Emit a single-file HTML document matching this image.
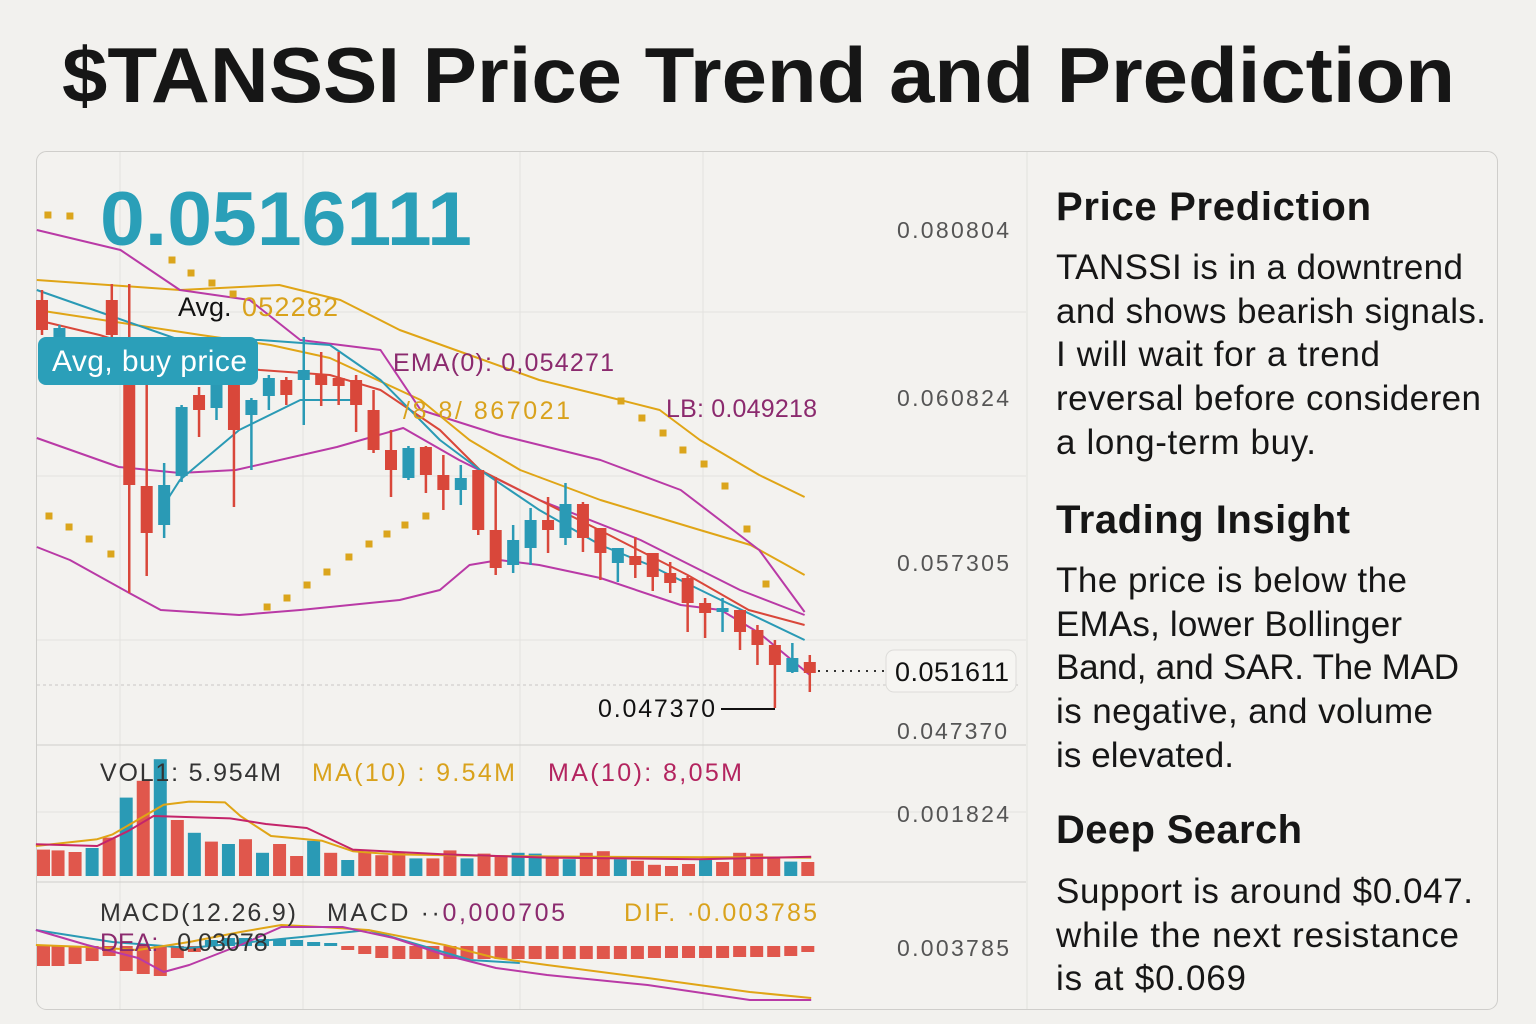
<!DOCTYPE html>
<html><head><meta charset="utf-8">
<style>
html,body{margin:0;padding:0;background:#f2f1ee;}
body{width:1536px;height:1024px;overflow:hidden;position:relative;font-family:"Liberation Sans",sans-serif;}
svg text{font-family:"Liberation Sans",sans-serif;}
</style></head>
<body>
<svg id="chart" width="1536" height="1024" viewBox="0 0 1536 1024" xmlns="http://www.w3.org/2000/svg" style="position:absolute;left:0;top:0">
  <text x="62" y="102" font-size="78" font-weight="bold" fill="#161616" textLength="1393" lengthAdjust="spacingAndGlyphs">$TANSSI Price Trend and Prediction</text>
  <rect x="36.5" y="151.5" width="1461" height="858" rx="10" fill="#f3f2ef" stroke="#cfcecb"/>
  <line x1="1027" y1="152" x2="1027" y2="1009" stroke="#e2e1de"/>
  <g id="grid" stroke="#e3e2df" stroke-width="1">
    <line x1="37" y1="312" x2="1026" y2="312"/><line x1="37" y1="476" x2="1026" y2="476"/>
    <line x1="37" y1="640" x2="1026" y2="640"/><line x1="37" y1="812" x2="1026" y2="812"/>
    <line x1="120" y1="152" x2="120" y2="1009"/><line x1="303" y1="152" x2="303" y2="1009"/>
    <line x1="520" y1="152" x2="520" y2="1009"/><line x1="703" y1="152" x2="703" y2="1009"/>
  </g>
  <line x1="37" y1="745" x2="1026" y2="745" stroke="#cfcecb"/>
  <line x1="37" y1="882" x2="1026" y2="882" stroke="#cfcecb"/>
  <line x1="37" y1="685" x2="1020" y2="685" stroke="#c8c7c4" stroke-dasharray="3,3"/>
  <g id="lines"></g><g id="candles"></g><g id="sar"></g>
  <g id="vol"></g><g id="macd"></g>

  <text x="100" y="245" font-size="76" font-weight="bold" fill="#2a9fb8" textLength="372" lengthAdjust="spacingAndGlyphs">0.0516111</text>
  <text x="178" y="316" font-size="27" fill="#111">Avg.</text>
  <text x="242" y="316" font-size="27" fill="#d9a21c" textLength="96">052282</text>
  <rect x="38" y="337" width="220" height="48" rx="8" fill="#2b9fb9"/>
  <text x="52" y="371" font-size="30" fill="#fff" textLength="195">Avg, buy price</text>
  <text x="393" y="371" font-size="25" fill="#8b2a6e" textLength="221">EMA(0): 0,054271</text>
  <text x="403" y="419" font-size="25" fill="#d9a21c" textLength="167">/8 8/ 867021</text>
  <text x="666" y="417" font-size="25" fill="#8b2a6e" textLength="151">LB: 0.049218</text>
  <text x="598" y="717" font-size="25" fill="#111" textLength="117">0.047370</text>
  <line x1="721" y1="709" x2="775" y2="709" stroke="#111" stroke-width="2"/>
  <line x1="818" y1="671" x2="884" y2="671" stroke="#333" stroke-width="2" stroke-dasharray="2,6"/>
  <rect x="886" y="650" width="130" height="42" rx="8" fill="#f6f5f2" stroke="#dddcd9"/>
  <text x="895" y="681" font-size="27" fill="#111" textLength="114">0.051611</text>

  <g font-size="23" fill="#555">
    <text x="897" y="238" textLength="112">0.080804</text><text x="897" y="406" textLength="112">0.060824</text>
    <text x="897" y="571" textLength="112">0.057305</text><text x="897" y="739" textLength="110">0.047370</text>
    <text x="897" y="822" textLength="112">0.001824</text><text x="897" y="956" textLength="112">0.003785</text>
  </g>
  <g font-size="25">
    <text x="100" y="781" fill="#333" textLength="181">VOL1: 5.954M</text>
    <text x="312" y="781" fill="#d9a21c" textLength="203">MA(10) : 9.54M</text>
    <text x="548" y="781" fill="#b3245f" textLength="194">MA(10): 8,05M</text>
  </g>
  <g font-size="25">
    <text x="100" y="921" fill="#333" textLength="196">MACD(12.26.9)</text>
    <text x="327" y="921" fill="#333" textLength="238">MACD ··<tspan fill="#8b2a6e">0,000705</tspan></text>
    <text x="624" y="921" fill="#d9a21c" textLength="193">DIF. ·0.003785</text>
    <text x="100" y="951" fill="#8b2a6e">DEA: <tspan fill="#333" dx="12">0.03078</tspan></text>
  </g>

  <g fill="#161616">
    <text x="1056" y="220" font-size="40" font-weight="bold" textLength="315">Price Prediction</text>
    <g font-size="35">
      <text x="1056" y="279" textLength="407">TANSSI is in a downtrend</text>
      <text x="1056" y="323" textLength="430">and shows bearish signals.</text>
      <text x="1056" y="366" textLength="324">I will wait for a trend</text>
      <text x="1056" y="410" textLength="425">reversal before consideren</text>
      <text x="1056" y="454" textLength="260">a long-term buy.</text>
    </g>
    <text x="1056" y="533" font-size="40" font-weight="bold" textLength="294">Trading Insight</text>
    <g font-size="35">
      <text x="1056" y="592" textLength="351">The price is below the</text>
      <text x="1056" y="636" textLength="346">EMAs, lower Bollinger</text>
      <text x="1056" y="679" textLength="403">Band, and SAR. The MAD</text>
      <text x="1056" y="723" textLength="377">is negative, and volume</text>
      <text x="1056" y="767" textLength="178">is elevated.</text>
    </g>
    <text x="1056" y="843" font-size="40" font-weight="bold" textLength="246">Deep Search</text>
    <g font-size="35">
      <text x="1056" y="903" textLength="417">Support is around $0.047.</text>
      <text x="1056" y="947" textLength="403">while the next resistance</text>
      <text x="1056" y="990" textLength="190">is at $0.069</text>
    </g>
  </g>
</svg>
<script>
const days=[0,1,4,5,6,7,8,9,10,11,12,13,14,15,16,17,18,19,20,21,22,23,24,25,26,27,28,29,30,31,32,33,34,35,36,37,38,39,40,41,42,43,44];
const opens=[.0790,.0750,.0790,.0745,.0604,.0565,.0614,.0695,.0682,.0705,.0675,.0694,.0710,.0710,.0715,.0712,.0710,.0680,.0640,.0612,.0643,.0615,.0600,.0620,.0560,.0525,.0542,.0570,.0552,.0586,.0562,.0527,.0534,.0537,.0517,.0512,.0487,.0478,.0480,.0460,.0445,.0418,.0428];
const closes=[.0760,.0762,.0755,.0605,.0557,.0605,.0683,.0680,.0705,.0660,.0690,.0712,.0695,.0720,.0705,.0704,.0685,.0640,.0620,.0642,.0615,.0600,.0612,.0560,.0522,.0550,.0570,.0560,.0586,.0552,.0537,.0542,.0525,.0513,.0507,.0487,.0477,.0482,.0458,.0445,.0425,.0432,.0417];
const highs=[.0800,.0765,.0806,.0806,.0710,.0627,.0685,.0703,.0710,.0745,.0692,.0715,.0713,.0753,.0738,.0738,.0715,.0700,.0660,.0644,.0644,.0635,.0625,.0620,.0613,.0565,.0582,.0593,.0607,.0588,.0562,.0542,.0553,.0537,.0528,.0514,.0492,.0492,.0480,.0465,.0450,.0447,.0435];
const lows=[.0755,.0750,.0750,.0497,.0514,.0552,.0608,.0653,.0670,.0583,.0620,.0680,.0685,.0665,.0684,.0685,.0658,.0637,.0593,.0610,.0597,.0580,.0585,.0555,.0515,.0517,.0525,.0537,.0545,.0538,.0510,.0508,.0512,.0499,.0497,.0458,.0452,.0458,.0440,.0425,.0382,.0417,.0398];

const bbUpperDays=[-0.3,7.9,13.6,17.1,20.5,24.5,28.5,32,35.4,37.7,41.1,43.7];
const bbUpperVals=[.0810,.0800,.0805,.0790,.0760,.0735,.0710,.0695,.0680,.0650,.0615,.0593];
const maGoldDays=[-0.3,9.1,13.1,16.5,21.7,24.5,27.4,32,37.7,40.6,43.7];
const maGoldVals=[.0780,.0755,.0745,.0732,.0690,.0650,.0620,.0590,.0560,.0545,.0515];
const magUpperDays=[-0.3,4.5,7.9,11.9,14.8,19.4,21.7,26.2,32,36.6,41.1,43.7];
const magUpperVals=[.0860,.0840,.0800,.0790,.0750,.0740,.0680,.0655,.0630,.0600,.0540,.0478];
const emaCyanDays=[-0.3,3.3,7.9,12.5,16.5,19.4,22.8,25.1,28.5,32,34.8,38.9,43.7];
const emaCyanVals=[.0800,.0778,.0750,.0750,.0745,.0710,.0650,.0620,.0580,.0545,.0525,.0490,.0450];
const emaRedDays=[-0.3,3.3,7.9,12.5,16.5,19.4,22.8,25.1,28.5,32.5,37,40.5,43.7];
const emaRedVals=[.0770,.0755,.0730,.0720,.0715,.0700,.0660,.0620,.0590,.0555,.0515,.0480,.0465];
const emaFastDays=[6.8,7.9,11.3,14.8,17.1,18.3];
const emaFastVals=[.0580,.0610,.0660,.0690,.0690,.0690];
const midDays=[-0.3,4.4,7.9,11.1,16.9,20.7,23.9,28.5,34.3,40,43.7];
const midVals=[.0652,.0623,.0617,.0620,.0643,.0662,.0630,.0590,.0550,.0500,.0475];
const bbLowerDays=[-0.3,1.6,5,6.8,11.3,14.8,20.5,22.8,24.5,26.2,28.5,32,36.6,38.9,41.1,44];
const bbLowerVals=[.0543,.0530,.0497,.0480,.0475,.0480,.0490,.0500,.0525,.0530,.0525,.0512,.0485,.0480,.0457,.0415];

const sarDays=[0.34,1.6,7.45,8.54,9.74,10.95,0.4,1.55,2.7,3.95,12.9,14.04,15.19,16.33,17.59,18.74,19.77,20.8,22.0,33.18,34.38,35.59,36.73,37.94,39.14,40.4,41.49];
const sarVals=[.0875,.0874,.0830,.0817,.0807,.0796,.0574,.0563,.0551,.0536,.0483,.0492,.0505,.0518,.0533,.0546,.0556,.0565,.0574,.0689,.0672,.0657,.0640,.0626,.0604,.0561,.0506];

const volumes=[3.3,3.2,3.0,3.5,4.8,9.8,11.9,14.6,7.0,5.4,4.3,4.0,4.6,2.9,4.0,2.5,4.4,2.9,2.0,3.0,2.6,3.0,2.2,2.2,3.2,2.2,2.8,2.5,2.9,2.8,2.5,2.1,2.9,3.1,2.1,1.9,1.4,1.25,1.5,2.1,1.75,2.9,2.8,2.3,1.8,1.75];
const volUp=[3,5,7,9,11,13,16,18,22,25,28,29,31,34,39,44];
const volMaGoldIdx=[-0.3,3.3,4.2,7.2,8.7,10.8,11.7,13.5,16.5,18.3,20.7,26.7,32.6,45.2];
const volMaGoldVals=[3.75,4.6,5.2,8.9,9.3,9.2,7.5,5.0,4.4,3.1,2.7,2.5,2.4,2.3];
const volMaMagIdx=[-0.3,3.3,5.1,6.6,11.1,13.2,15.6,18.3,23.7,29.7,38.6,45.2];
const volMaMagVals=[3.96,3.75,5.6,7.5,7.2,6.5,6.0,3.3,2.7,2.3,2.1,2.4];

const macdHist=[-.0020,-.0020,-.0018,-.0015,-.0010,-.0025,-.0028,-.0030,-.0012,-.0006,.0006,.0008,.0008,.0007,.0007,.0006,.0004,.0003,-.0004,-.0008,-.0012,-.0013,-.0013,-.0013,-.0013,-.0013,-.0013,-.0013,-.0013,-.0013,-.0013,-.0013,-.0013,-.0013,-.0013,-.0013,-.0012,-.0012,-.0012,-.0012,-.0012,-.0011,-.0011,-.0011,-.0010,-.0006];
const difIdx=[-0.3,2.7,5.7,8.7,11.7,14.1,16.5,19.2,23.7,26.7,29.7,35.6,41.6,45.2];
const difVals=[.0001,-.0001,-.0004,.0004,.0014,.0021,.0019,.0016,.0001,-.0012,-.0019,-.0032,-.0046,-.0052];
const deaIdx=[-0.3,2.7,5.7,7.2,8.7,11.7,14.1,17.7,20.7,23.7,26.7,29.7,35.6,41.6,45.2];
const deaVals=[.0016,.0001,-.0012,-.0026,-.0019,.0001,.0019,.0019,.0008,-.0009,-.0022,-.0029,-.0039,-.0054,-.0054];
const macdCyanIdx=[-0.3,4.2,8.7,12.3,15.3,19.2,22.2,25.2,28.1];
const macdCyanVals=[.0016,.0004,-.0002,.0004,.0009,.0016,.0001,-.0014,-.0017];

const xDay=d=>42+d*17.45;
const yPrice=p=>1090-p*10000;
const xVol=i=>41+i*17.04;
const yVol=v=>876-v*8;
const yMacd=m=>946-m*10000;
const NS='http://www.w3.org/2000/svg';
const RED='#d9473a',CYAN='#2a9ab5',GOLD='#e0a516',MAG='#b93aa6';

function mk(tag,attrs,parent){const e=document.createElementNS(NS,tag);for(const k in attrs)e.setAttribute(k,attrs[k]);document.getElementById(parent).appendChild(e);return e;}
function poly(xs,ys,fx,fy,color,w,parent,name){
  const pts=xs.map((x,i)=>fx(x).toFixed(1)+','+fy(ys[i]).toFixed(1)).join(' ');
  const e=mk('polyline',{points:pts,fill:'none',stroke:color,'stroke-width':w,'stroke-linejoin':'round'},parent);
  
  
}
poly(bbUpperDays,bbUpperVals,xDay,yPrice,GOLD,2,'lines','bollinger-upper');
poly(maGoldDays,maGoldVals,xDay,yPrice,GOLD,2,'lines','ma-gold-line');
poly(magUpperDays,magUpperVals,xDay,yPrice,MAG,2,'lines','ema-magenta-line');
poly(midDays,midVals,xDay,yPrice,MAG,2,'lines','bollinger-mid');
poly(emaRedDays,emaRedVals,xDay,yPrice,RED,2,'lines','ema-red-line');
poly(emaCyanDays,emaCyanVals,xDay,yPrice,CYAN,2,'lines','ema-cyan-line');
poly(emaFastDays,emaFastVals,xDay,yPrice,CYAN,2,'lines','ema-fast-line');
poly(bbLowerDays,bbLowerVals,xDay,yPrice,MAG,2,'lines','bollinger-lower');

days.forEach((d,i)=>{
  const up=closes[i]>=opens[i];const c=up?CYAN:RED;const x=xDay(d);
  const w=mk('line',{x1:x,x2:x,y1:yPrice(highs[i]),y2:yPrice(lows[i]),stroke:c,'stroke-width':2.5},'candles');
  
  
  const top=yPrice(Math.max(opens[i],closes[i])),bot=yPrice(Math.min(opens[i],closes[i]));
  const b=mk('rect',{x:x-6,y:top,width:12,height:Math.max(3,bot-top),fill:c},'candles');
  
  
});
sarDays.forEach((d,i)=>{
  const s=mk('rect',{x:xDay(d)-3.5,y:yPrice(sarVals[i])-3.5,width:7,height:7,fill:'#dba51c'},'sar');
  
  
});
volumes.forEach((v,i)=>{
  const c=volUp.includes(i)?CYAN:'#e0574c';
  const r=mk('rect',{x:Math.max(37,xVol(i)-6.5),y:yVol(v),width:13,height:876-yVol(v),fill:c},'vol');
  
  
});
poly(volMaGoldIdx,volMaGoldVals,xVol,yVol,GOLD,2,'vol','volume-ma-gold');
poly(volMaMagIdx,volMaMagVals,xVol,yVol,'#c4246a',2,'vol','volume-ma-magenta');
macdHist.forEach((m,i)=>{
  const c=m>=0?CYAN:'#e0574c';const y0=yMacd(0),y1=yMacd(m);
  const r=mk('rect',{x:Math.max(37,xVol(i)-6.5),y:Math.min(y0,y1),width:13,height:Math.abs(y1-y0),fill:c},'macd');
  
  
});
poly(macdCyanIdx,macdCyanVals,xVol,yMacd,CYAN,2,'macd','macd-cyan-line');
poly(difIdx,difVals,xVol,yMacd,GOLD,2,'macd','dif-line');
poly(deaIdx,deaVals,xVol,yMacd,MAG,2,'macd','dea-line');
</script>
</body></html>
